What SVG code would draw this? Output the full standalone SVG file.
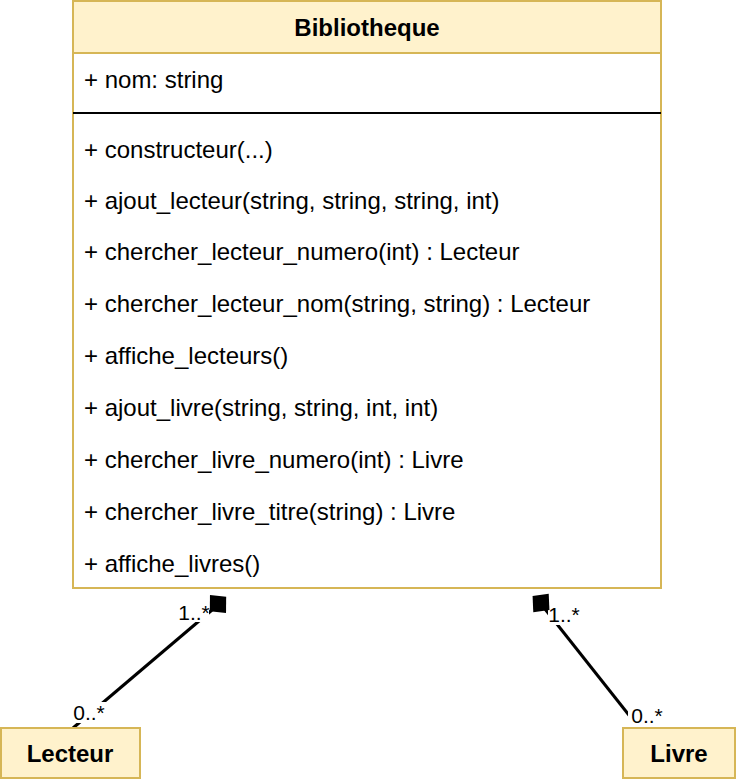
<svg xmlns="http://www.w3.org/2000/svg" width="736" height="780" viewBox="0 0 736 780">
<style>
.box{fill:#fff2cc;stroke:#d6b656;stroke-width:2}
.body{fill:#ffffff;stroke:#d6b656;stroke-width:2}
.t{font-family:"Liberation Sans",Arial,sans-serif;font-size:24px;fill:#000}
.b{font-weight:bold;text-anchor:middle}
.lbl{font-family:"Liberation Sans",Arial,sans-serif;font-size:21px;fill:#000;text-anchor:middle}
.conn{stroke:#000;stroke-width:3;fill:none}
</style>
<rect width="736" height="780" fill="#ffffff"/>
<g id="connectors">
<line class="conn" x1="212" y1="610" x2="73" y2="728"/>
<rect x="176" y="602" width="33" height="20" fill="#fff"/>
<text class="lbl" x="194" y="620">1..*</text>
<polygon points="218,592 229,604 218,616 207,604" fill="#000" transform="rotate(-42 218 604)"/>
<line class="conn" x1="545" y1="609" x2="636" y2="724"/>
<rect x="548" y="604" width="33" height="21" fill="#fff"/>
<text class="lbl" x="564" y="622">1..*</text>
<polygon points="541,591 552,603 541,615 530,603" fill="#000" transform="rotate(40 541 603)"/>
<rect x="70" y="702" width="37" height="21" fill="#fff"/>
<text class="lbl" x="89" y="720">0..*</text>
<rect x="628" y="705" width="37" height="21" fill="#fff"/>
<text class="lbl" x="647" y="723">0..*</text>
</g>
<g id="Bibliotheque">
<rect class="box" x="73" y="1" width="588" height="587"/>
<rect class="body" x="73" y="53" width="588" height="535"/>
<line x1="73" y1="113" x2="661" y2="113" stroke="#000" stroke-width="2"/>
<text class="t b" x="367" y="36">Bibliotheque</text>
<text class="t" x="84" y="88">+ nom: string</text>
<text class="t" x="84" y="158">+ constructeur(...)</text>
<text class="t" x="84" y="209">+ ajout_lecteur(string, string, string, int)</text>
<text class="t" x="84" y="260">+ chercher_lecteur_numero(int) : Lecteur</text>
<text class="t" x="84" y="312">+ chercher_lecteur_nom(string, string) : Lecteur</text>
<text class="t" x="84" y="364">+ affiche_lecteurs()</text>
<text class="t" x="84" y="416">+ ajout_livre(string, string, int, int)</text>
<text class="t" x="84" y="468">+ chercher_livre_numero(int) : Livre</text>
<text class="t" x="84" y="520">+ chercher_livre_titre(string) : Livre</text>
<text class="t" x="84" y="572">+ affiche_livres()</text>
</g>
<g id="Lecteur">
<rect class="box" x="1" y="728" width="139" height="50"/>
<text class="t b" x="70" y="762">Lecteur</text>
</g>
<g id="Livre">
<rect class="box" x="623" y="728" width="112" height="50"/>
<text class="t b" x="679" y="762">Livre</text>
</g>
</svg>
